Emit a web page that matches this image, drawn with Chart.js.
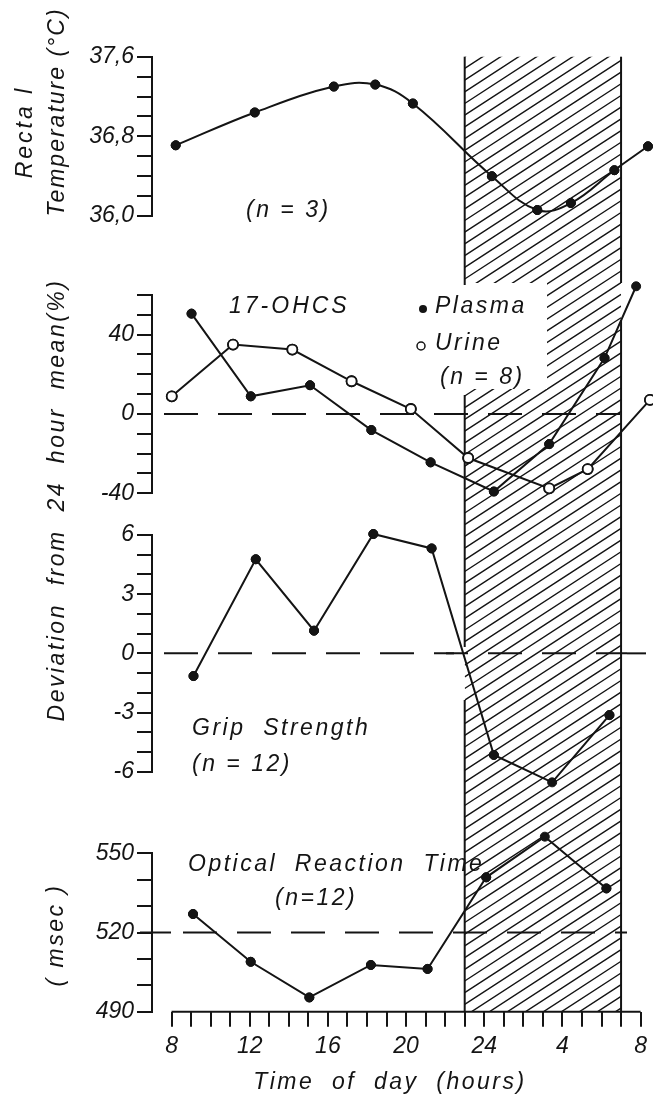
<!DOCTYPE html>
<html>
<head>
<meta charset="utf-8">
<script src="https://cdn.jsdelivr.net/npm/chart.js@4.4.1/dist/chart.umd.min.js"></script>
<style>
  html, body { margin: 0; padding: 0; background: #fff; }
  #wrap { position: relative; width: 653px; height: 1099px; }
  #wrap canvas { position: absolute; left: 0; top: 0; }
</style>
</head>
<body>
<div id="wrap">
  <canvas id="reaction" width="653" height="1099"></canvas>
  <canvas id="temp" width="653" height="1099"></canvas>
  <canvas id="ohcs" width="653" height="1099"></canvas>
  <canvas id="grip" width="653" height="1099"></canvas>
</div>
<script>
// --- data (x = clock hour, 24+ = next morning) ---
const tempHours = [8.2, 12.2, 16.2, 18.3, 20.2, 24.2, 26.5, 28.2, 30.4, 32.1];
const tempValues = [36.71, 37.04, 37.30, 37.32, 37.13, 36.40, 36.06, 36.13, 36.46, 36.70];

const plasmaHours = [9.0, 12.0, 15.0, 18.1, 21.1, 24.3, 27.1, 29.9, 31.5];
const plasmaValues = [50.6, 8.9, 14.5, -8.1, -24.4, -39.1, -15.2, 28.2, 64.4];
const urineHours = [8.0, 11.1, 14.1, 17.1, 20.1, 23.0, 27.1, 29.05, 32.2];
const urineValues = [8.9, 35.0, 32.5, 16.5, 2.5, -22.2, -37.5, -27.8, 7.1];

const gripHours = [9.1, 12.25, 15.2, 18.2, 21.15, 24.3, 27.25, 30.15];
const gripValues = [-1.15, 4.77, 1.15, 6.05, 5.32, -5.15, -6.54, -3.13];

const reactionHours = [9.1, 12.05, 15.05, 18.2, 21.1, 24.1, 27.1, 30.25];
const reactionValues = [527.0, 508.9, 495.4, 507.7, 506.2, 540.9, 556.3, 536.7];

const xTickValues = [8, 12, 16, 20, 24, 28, 32];
const xTickLabels = ['8', '12', '16', '20', '24', '4', '8'];
const tempTicks = [36.0, 36.8, 37.6];
const ohcsTicks = [-40, 0, 40];
const gripTicks = [-6, -3, 0, 3, 6];
const reactionTicks = [490, 520, 550];
const nightStart = 23, nightEnd = 31;

const INK = '#141414';
const FONT = "'Liberation Sans', Arial, sans-serif";

Chart.defaults.animation = false;
Chart.defaults.font.family = FONT;
Chart.defaults.font.style = 'italic';
Chart.defaults.font.size = 23;
Chart.defaults.color = INK;

const hourMarks = [];
for (let h = 8; h <= 32; h++) hourMarks.push(h);

function yAxis(min, max, step, labelled, fmt) {
  return {
    min, max,
    afterFit: s => { s.width = 152; },
    ticks: {
      stepSize: step, autoSkip: false, padding: 3, color: INK,
      callback: v => labelled.some(l => Math.abs(l - v) < 1e-6) ? fmt(v) : ''
    },
    grid: { drawOnChartArea: false, drawTicks: true, tickLength: 15, color: INK, lineWidth: 2 },
    border: { display: true, color: INK, width: 2 }
  };
}

function xAxis(show) {
  const ax = {
    type: 'linear', min: 7, max: 32, display: show,
    afterBuildTicks: s => { s.ticks = hourMarks.map(v => ({ value: v })); },
    ticks: {
      autoSkip: false, maxRotation: 0, padding: 6, color: INK,
      callback: v => {
        const i = xTickValues.indexOf(v);
        return i >= 0 ? xTickLabels[i] : '';
      }
    },
    grid: { drawOnChartArea: false, drawTicks: true, tickLength: 15, color: INK, lineWidth: 2 },
    border: { display: false }
  };
  if (show) ax.afterFit = s => { s.height = 87.3; };
  return ax;
}

function series(hours, values, filled, tension) {
  return {
    data: hours.map((h, i) => ({ x: h, y: values[i] })),
    borderColor: INK, borderWidth: 2, tension: tension || 0,
    pointRadius: filled ? 4.5 : 5,
    pointBackgroundColor: filled ? INK : '#fff',
    pointBorderColor: INK,
    pointBorderWidth: filled ? 1 : 1.8,
    clip: false
  };
}

// points lying just outside an axis range are still drawn
const allPoints = {
  id: 'allPoints',
  afterDatasetsDraw(chart) {
    const full = { left: 0, top: 0, right: chart.width, bottom: chart.height };
    chart.data.datasets.forEach((d, i) => {
      chart.getDatasetMeta(i).data.forEach(p => p.draw(chart.ctx, full));
    });
  }
};

// text helper
function notes(items) {
  return {
    id: 'notes',
    afterDraw(chart) {
      const ctx = chart.ctx;
      items.forEach(n => {
        ctx.save();
        ctx.font = 'italic ' + (n.size || 23) + 'px ' + FONT;
        ctx.fillStyle = INK;
        ctx.letterSpacing = (n.ls == null ? 2.5 : n.ls) + 'px';
        if (n.rot) {
          ctx.translate(n.x, n.y);
          ctx.rotate(-Math.PI / 2);
          ctx.textAlign = 'center';
          ctx.textBaseline = 'alphabetic';
          ctx.fillText(n.t, 0, 0);
        } else {
          ctx.textAlign = n.align || 'left';
          ctx.textBaseline = 'middle';
          ctx.fillText(n.t, n.x, n.y);
        }
        ctx.restore();
        if (n.dot) {
          ctx.save();
          ctx.beginPath();
          ctx.arc(n.dot[0], n.dot[1], 4, 0, Math.PI * 2);
          if (n.open) { ctx.fillStyle = '#fff'; ctx.fill(); ctx.lineWidth = 1.5; ctx.strokeStyle = INK; ctx.stroke(); }
          else { ctx.fillStyle = INK; ctx.fill(); }
          ctx.restore();
        }
      });
    }
  };
}

// dashed reference line (y through the chart's own scale)
function refLine(value, dashFrom, dashTo, solids) {
  return {
    id: 'refLine',
    beforeDatasetsDraw(chart) {
      const ctx = chart.ctx;
      const y = chart.scales.y.getPixelForValue(value);
      ctx.save();
      ctx.strokeStyle = INK;
      ctx.lineWidth = 2;
      ctx.setLineDash([34, 20]);
      ctx.lineDashOffset = -12;
      ctx.beginPath();
      ctx.moveTo(dashFrom, y);
      ctx.lineTo(dashTo, y);
      ctx.stroke();
      ctx.setLineDash([]);
      (solids || []).forEach(s => {
        ctx.beginPath();
        ctx.moveTo(s[0], y);
        ctx.lineTo(s[1], y);
        ctx.stroke();
      });
      ctx.restore();
    }
  };
}

function makeChart(id, datasets, x, y, padTop, padBottom, plugins) {
  return new Chart(document.getElementById(id), {
    type: 'line',
    data: { datasets },
    options: {
      responsive: false,
      devicePixelRatio: 1,
      events: [],
      layout: { padding: { top: padTop, bottom: padBottom, left: 0, right: 7 } },
      plugins: { legend: { display: false }, tooltip: { enabled: false } },
      scales: { x, y }
    },
    plugins: [allPoints].concat(plugins)
  });
}

const comma = v => v.toFixed(1).replace('.', ',');

// Rectal temperature
const tempChart = makeChart('temp',
  [series(tempHours, tempValues, true, 0.4)],
  xAxis(false),
  yAxis(36.0, 37.6, 0.2, tempTicks, comma),
  56.7, 1099 - 216,
  [notes([
    { t: '(n = 3)', x: 246, y: 211 },
    { t: 'Recta l', x: 32, y: 132, rot: true, ls: 3 },
    { t: 'Temperature (°C)', x: 64, y: 112, rot: true, ls: 2 }
  ])]
);

// 17-OHCS
makeChart('ohcs',
  [series(plasmaHours, plasmaValues, true), series(urineHours, urineValues, false)],
  xAxis(false),
  yAxis(-40, 60, 10, ohcsTicks, v => String(Math.round(v))),
  295, 1099 - 493.3,
  [refLine(0, 152, 620), notes([
    { t: '17-OHCS', x: 229, y: 307, ls: 3 },
    { t: 'Plasma', x: 435, y: 307, dot: [423, 309] },
    { t: 'Urine', x: 435, y: 344, dot: [421, 346], open: true },
    { t: '(n = 8)', x: 440, y: 378 },
    { t: 'Deviation  from  24  hour  mean(%)', x: 64, y: 500, rot: true, ls: 2.5 }
  ])]
);

// Grip strength
makeChart('grip',
  [series(gripHours, gripValues, true)],
  xAxis(false),
  yAxis(-6, 6, 1, gripTicks, v => String(Math.round(v))),
  535, 1099 - 771.7,
  [refLine(0, 152, 627, [[627, 646], [446, 454]]), notes([
    { t: 'Grip  Strength', x: 192, y: 729 },
    { t: '(n = 12)', x: 192, y: 765 }
  ])]
);

// night hatch + bottom axis line
const nightPlugin = {
  id: 'night',
  beforeDatasetsDraw(chart) {
    const ctx = chart.ctx;
    const xs = chart.scales.x;
    const left = xs.getPixelForValue(nightStart);
    const right = xs.getPixelForValue(nightEnd);
    const top = tempChart.scales.y.getPixelForValue(tempTicks[tempTicks.length - 1]);
    const bottom = chart.chartArea.bottom;
    ctx.save();
    ctx.beginPath();
    ctx.rect(left, top, right - left, bottom - top);
    ctx.rect(left, 283, 547 - left, 106);
    ctx.clip('evenodd');
    ctx.strokeStyle = INK;
    ctx.lineWidth = 1.4;
    const s = 0.65, step = 11.7;
    ctx.beginPath();
    for (let b = top + s * left; b < bottom + s * right + step; b += step) {
      ctx.moveTo(left, b - s * left);
      ctx.lineTo(right, b - s * right);
    }
    ctx.stroke();
    ctx.restore();

    ctx.save();
    ctx.strokeStyle = INK;
    ctx.lineWidth = 2;
    const segs = [[left, top, 285], [left, 395, 647], [left, 700, bottom], [right, top, 283], [right, 320, bottom]];
    segs.forEach(g => {
      ctx.beginPath();
      ctx.moveTo(g[0], g[1]);
      ctx.lineTo(g[0], g[2]);
      ctx.stroke();
    });
    ctx.beginPath();
    ctx.moveTo(xs.getPixelForValue(8), bottom);
    ctx.lineTo(xs.getPixelForValue(32), bottom);
    ctx.stroke();
    ctx.restore();
  }
};

// Optical reaction time
makeChart('reaction',
  [series(reactionHours, reactionValues, true)],
  xAxis(true),
  yAxis(490, 550, 10, reactionTicks, v => String(Math.round(v))),
  853.3, 0,
  [nightPlugin, refLine(520, 171, 627, [[140, 171]]), notes([
    { t: 'Optical  Reaction  Time', x: 188, y: 865 },
    { t: '(n=12)', x: 275, y: 899 },
    { t: '( msec )', x: 63, y: 935, rot: true, ls: 2.5 },
    { t: 'Time  of  day  (hours)', x: 390, y: 1083, align: 'center' }
  ])]
);
</script>
</body>
</html>
